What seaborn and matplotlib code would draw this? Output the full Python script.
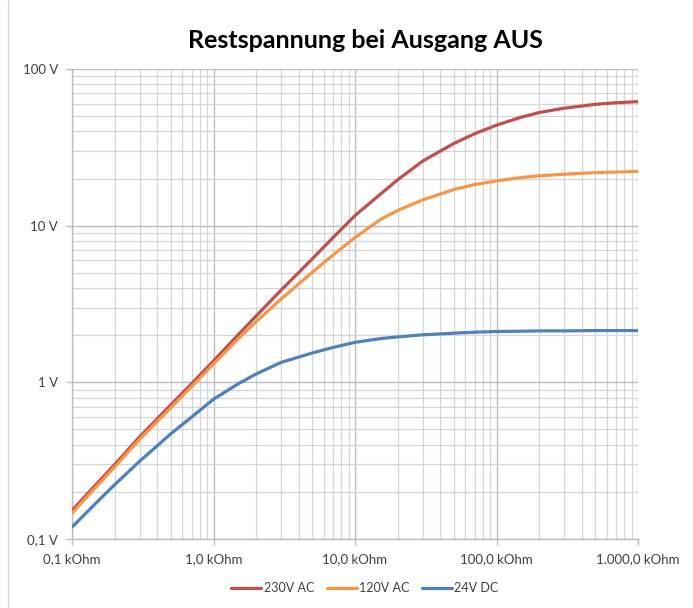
import matplotlib
matplotlib.use("Agg")
import matplotlib.pyplot as plt
import matplotlib.ticker as mticker
from matplotlib.lines import Line2D
import seaborn as sns
import pandas as pd
import numpy as np

# Data (resistance in kOhm, residual voltage in V)
resistance_kohm = [0.1, 0.15, 0.2, 0.3, 0.5, 0.7, 1, 1.5, 2, 3, 5, 7, 10, 15, 20, 30, 50, 70,
                   100, 150, 200, 300, 500, 700, 1000]
v_230ac = [0.152, 0.226, 0.298, 0.448, 0.72, 0.98, 1.37, 2.02, 2.65, 3.87, 6.15, 8.4, 11.6,
           15.8, 19.6, 25.8, 33.5, 38.6, 43.8, 49.3, 52.7, 56.2, 59.5, 60.9, 61.9]
v_120ac = [0.146, 0.218, 0.288, 0.432, 0.69, 0.94, 1.31, 1.90, 2.44, 3.40, 5.05, 6.5, 8.4,
           10.9, 12.5, 14.6, 17.0, 18.3, 19.3, 20.3, 20.8, 21.3, 21.8, 22.0, 22.2]
v_24dc = [0.119, 0.172, 0.222, 0.313, 0.47, 0.60, 0.78, 0.98, 1.13, 1.34, 1.54, 1.67, 1.80,
          1.90, 1.95, 2.01, 2.06, 2.09, 2.11, 2.12, 2.13, 2.13, 2.14, 2.14, 2.14]
series_names = ["230V AC", "120V AC", "24V DC"]
series_colors = ["#C0504D", "#F79646", "#4F81BD"]
x_ticks = [0.1, 1, 10, 100, 1000]
x_tick_labels = ["0,1 kOhm", "1,0 kOhm", "10,0 kOhm", "100,0 kOhm", "1.000,0 kOhm"]
y_ticks = [0.1, 1, 10, 100]
y_tick_labels = ["0,1 V", "1 V", "10 V", "100 V"]
title = "Restspannung bei Ausgang AUS"

frames = []
for name, vals in zip(series_names, [v_230ac, v_120ac, v_24dc]):
    frames.append(pd.DataFrame({"R": resistance_kohm, "V": vals, "Serie": name}))
df = pd.concat(frames, ignore_index=True)

sns.set_theme(style="white")
plt.rcParams["font.family"] = ["Lato", "DejaVu Sans"]

fig = plt.figure(figsize=(6.93, 6.08), dpi=100)
ax = fig.add_axes([72 / 693, 1 - 539 / 608, (638 - 72) / 693, (539 - 69) / 608])

sns.lineplot(data=df, x="R", y="V", hue="Serie", hue_order=series_names,
             palette=dict(zip(series_names, series_colors)), linewidth=2.3,
             ax=ax, legend=False, zorder=3)
for ln in ax.get_lines():
    ln.set_solid_joinstyle("round")
    ln.set_solid_capstyle("round")

ax.set_xscale("log")
ax.set_yscale("log")
ax.set_xlim(0.1, 1000)
ax.set_ylim(0.1, 100)

ax.xaxis.set_major_locator(mticker.FixedLocator(x_ticks))
ax.xaxis.set_major_formatter(mticker.FixedFormatter(x_tick_labels))
ax.yaxis.set_major_locator(mticker.FixedLocator(y_ticks))
ax.yaxis.set_major_formatter(mticker.FixedFormatter(y_tick_labels))
ax.xaxis.set_minor_locator(mticker.LogLocator(base=10, subs=np.arange(2, 10)))
ax.yaxis.set_minor_locator(mticker.LogLocator(base=10, subs=np.arange(2, 10)))
ax.xaxis.set_minor_formatter(mticker.NullFormatter())
ax.yaxis.set_minor_formatter(mticker.NullFormatter())

ax.grid(which="major", color="#bdbdbd", linewidth=1.0)
ax.grid(which="minor", color="#d6d6d6", linewidth=0.9)
ax.set_axisbelow(True)

for side in ["top", "right"]:
    ax.spines[side].set_visible(False)
for side in ["left", "bottom"]:
    ax.spines[side].set_color("#bdbdbd")
    ax.spines[side].set_linewidth(1.0)

ax.tick_params(axis="both", which="major", direction="out", length=4, width=1,
               color="#bdbdbd", labelsize=9.5, labelcolor="#404040", pad=6, bottom=True, left=True)
ax.tick_params(axis="both", which="minor", length=0)
ax.set_xlabel("")
ax.set_ylabel("")

fig.text(365 / 693, 1 - 40 / 608, title, ha="center", va="center",
         fontsize=18, fontweight="bold", color="#000000")

handles = [Line2D([0], [0], color=c, linewidth=2.3) for c in series_colors]
fig.legend(handles, series_names, loc="center", bbox_to_anchor=(365 / 693, 1 - 588 / 608),
           ncol=3, frameon=False, fontsize=9, handlelength=2.4, columnspacing=1.0,
           handletextpad=0.2, labelcolor="#404040")

fig.add_artist(Line2D([8 / 693, 8 / 693], [0, 1], color="#d9d9d9", linewidth=1.0,
                      transform=fig.transFigure))

fig.savefig("out.png", dpi=100)
